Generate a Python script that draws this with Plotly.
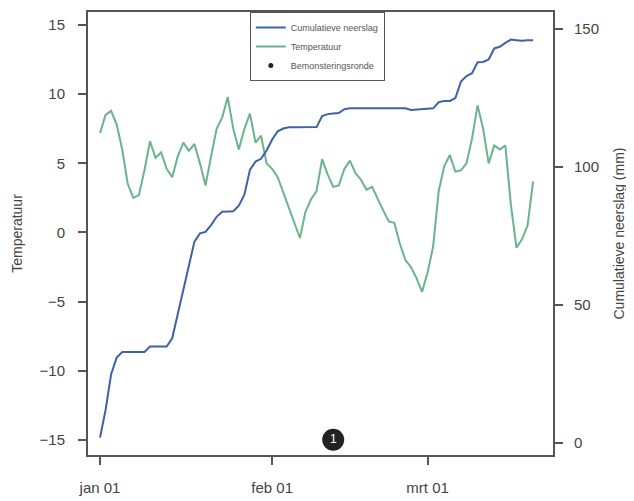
import pandas as pd
import plotly.graph_objects as go

# daily series, starting 1 January
start_date = "2023-01-01"

temperatuur = [
    7.2, 8.5, 8.8, 7.8, 6.0, 3.5, 2.5, 2.7, 4.5, 6.6,
    5.4, 5.8, 4.6, 4.0, 5.5, 6.5, 5.9, 6.4, 5.0, 3.4,
    5.5, 7.5, 8.3, 9.8, 7.5, 6.0, 7.5, 8.6, 6.5, 7.0,
    5.0, 4.6, 4.0, 2.9, 1.8, 0.8, -0.4, 1.5, 2.4, 3.0,
    5.3, 4.2, 3.3, 3.4, 4.6, 5.2, 4.3, 3.8, 3.1, 3.3,
    2.4, 1.6, 0.8, 0.7, -0.8, -2.0, -2.5, -3.3, -4.3, -2.9,
    -1.0, 3.0, 4.8, 5.6, 4.4, 4.5, 5.0, 6.8, 9.2, 7.5,
    5.0, 6.3, 6.0, 6.3, 2.0, -1.1, -0.5, 0.5, 3.7,
]

cum_neerslag = [
    2, 12, 25, 31, 33, 33, 33, 33, 33, 35,
    35, 35, 35, 38, 47, 55, 65, 73, 76, 76.5,
    79, 82, 83.8, 83.8, 84, 86, 90, 99, 102, 103,
    106, 110, 113, 114, 114.4, 114.4, 114.4, 114.4, 114.4, 114.5,
    118.5, 119.2, 119.4, 119.6, 121, 121.3, 121.3, 121.3, 121.3, 121.3,
    121.3, 121.3, 121.3, 121.3, 121.3, 121.3, 120.7, 120.8, 121, 121.2,
    121.3, 123.5, 124, 124, 125, 131, 133, 134, 138, 138.1,
    139, 143, 143.6, 145, 146.2, 146, 145.8, 146, 146,
]

# sampling rounds
ronde_datum = ["2023-02-12"]
ronde_temp = [-15.0]
ronde_label = ["1"]

tick_dates = ["2023-01-01", "2023-02-01", "2023-03-01"]
tick_labels = ["jan 01", "feb 01", "mrt 01"]

dates = pd.date_range(start_date, periods=len(temperatuur), freq="D")

axis_col = "#555555"
font = dict(family="Liberation Sans, Arial, sans-serif", size=15, color="#444444")

fig = go.Figure()

fig.add_trace(go.Scatter(
    x=dates, y=temperatuur, mode="lines", name="Temperatuur",
    line=dict(color="#6ab48c", width=2), legendrank=2,
))
fig.add_trace(go.Scatter(
    x=dates, y=cum_neerslag, mode="lines", name="Cumulatieve neerslag",
    line=dict(color="#3d62a8", width=2), yaxis="y2", legendrank=1,
))
fig.add_trace(go.Scatter(
    x=ronde_datum, y=ronde_temp, mode="markers+text", text=ronde_label,
    textposition="middle center", textfont=dict(color="white", size=12, family="Liberation Sans, Arial"),
    marker=dict(color="#222222", size=22), showlegend=False,
))
# legend-only entry with a small dot
fig.add_trace(go.Scatter(
    x=[None], y=[None], mode="markers", name="Bemonsteringsronde",
    marker=dict(color="#222222", size=5), legendrank=3,
))

# page body has an 8px margin, so the figure is a bit smaller than the window
fig.update_layout(
    width=626, height=493,
    margin=dict(l=80, r=81, t=4, b=46, autoexpand=False),
    paper_bgcolor="white", plot_bgcolor="white",
    font=font,
    showlegend=True,
    legend=dict(
        x=0.348, y=1, xanchor="left", yanchor="top",
        bgcolor="white", bordercolor=axis_col, borderwidth=1,
        font=dict(size=9, color="#555555"),
        tracegroupgap=0, itemwidth=30,
    ),
    xaxis=dict(
        type="date", automargin=False,
        range=["2022-12-29 20:00", "2023-03-23 14:00"],
        tickvals=tick_dates, ticktext=tick_labels,
        ticks="outside", ticklen=8, tickcolor=axis_col, tickwidth=2,
        showline=True, linecolor=axis_col, linewidth=2, mirror=True,
        showgrid=False, zeroline=False,
        ticklabelstandoff=10,
    ),
    yaxis=dict(
        title=dict(text="Temperatuur", standoff=14, font=dict(size=14)),
        automargin=False,
        range=[-16.1, 15.95],
        tickvals=[-15, -10, -5, 0, 5, 10, 15],
        ticks="outside", ticklen=8, tickcolor=axis_col, tickwidth=2,
        showline=True, linecolor=axis_col, linewidth=2,
        showgrid=False, zeroline=False,
        ticklabelstandoff=10,
    ),
    yaxis2=dict(
        title=dict(text="Cumulatieve neerslag (mm)", standoff=16, font=dict(size=14)),
        automargin=False,
        overlaying="y", side="right",
        range=[-4.3, 156.2],
        tickvals=[0, 50, 100, 150],
        ticks="outside", ticklen=8, tickcolor=axis_col, tickwidth=2,
        showline=True, linecolor=axis_col, linewidth=2,
        showgrid=False, zeroline=False,
        ticklabelstandoff=8,
    ),
)

fig.write_html("out.html")
